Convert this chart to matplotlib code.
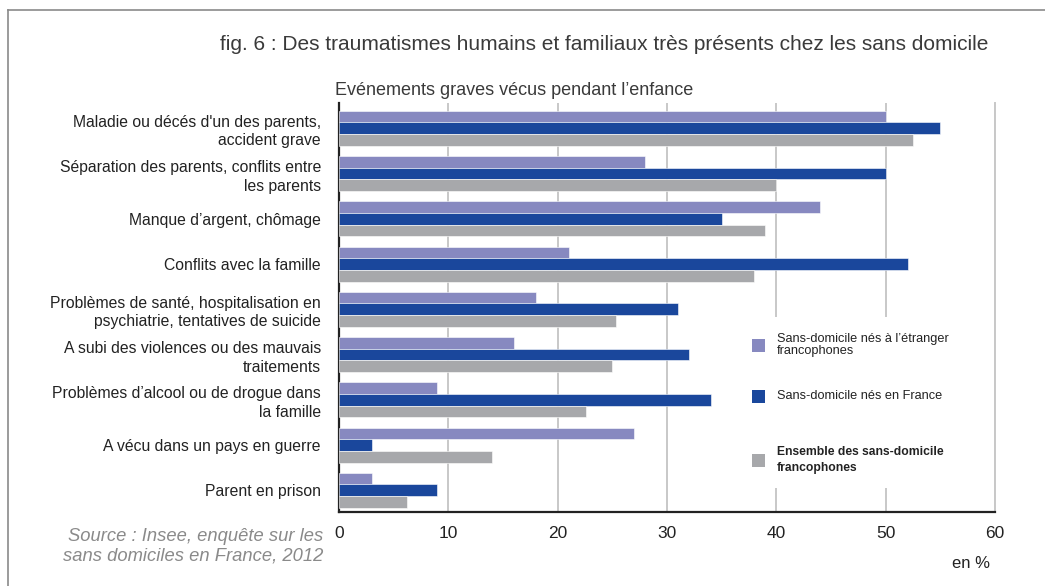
import numpy as np
import matplotlib
matplotlib.use("Agg")
import matplotlib.pyplot as plt
from matplotlib.patches import Rectangle
from matplotlib.lines import Line2D

# ──────────────────────────────────────────────
# Data (en %)
# ──────────────────────────────────────────────

categories = [
    "Maladie ou décés d'un des parents,\naccident grave",
    "Séparation des parents, conflits entre\nles parents",
    "Manque d’argent, chômage",
    "Conflits avec la famille",
    "Problèmes de santé, hospitalisation en\npsychiatrie, tentatives de suicide",
    "A subi des violences ou des mauvais\ntraitements",
    "Problèmes d’alcool ou de drogue dans\nla famille",
    "A vécu dans un pays en guerre",
    "Parent en prison",
]
nes_etranger = [50, 28, 44, 21, 18, 16, 9, 27, 3]
nes_france = [55, 50, 35, 52, 31, 32, 34, 3, 9]
ensemble = [52.5, 40, 39, 38, 25.3, 25, 22.6, 14, 6.2]

series_labels = [
    "Sans-domicile nés à l’étranger\nfrancophones",
    "Sans-domicile nés en France",
    "Ensemble des sans-domicile\nfrancophones",
]
colors = ["#8789c0", "#1a479c", "#a7a8ab"]
x_ticks = [0, 10, 20, 30, 40, 50, 60]

TITLE = "fig. 6 : Des traumatismes humains et familiaux très présents chez les sans domicile"
SUBTITLE = "Evénements graves vécus pendant l’enfance"
SOURCE = "Source : Insee, enquête sur les\nsans domiciles en France, 2012"

FONT = ["Liberation Sans", "DejaVu Sans"]
W, H = 1045, 586


def fx(x):
    return x / W


def fy(y):
    return 1 - y / H


# ──────────────────────────────────────────────
# Figure
# ──────────────────────────────────────────────

fig = plt.figure(figsize=(W / 100, H / 100), dpi=100)
fig.patch.set_facecolor("white")

# outer frame (left + top)
fig.add_artist(Line2D([fx(8), fx(8)], [fy(10), 0], color="#8a8a8a", lw=1.2))
fig.add_artist(Line2D([fx(8), 1], [fy(10), fy(10)], color="#8a8a8a", lw=1.2))

ax = fig.add_axes([fx(339), fy(512), fx(995) - fx(339), fy(103) - fy(512)])

pos = np.arange(len(categories))
h = 0.258
for k, (vals, col) in enumerate(zip([nes_etranger, nes_france, ensemble], colors)):
    ax.barh(pos + (k - 1) * h, vals, height=h, color=col,
            edgecolor="white", linewidth=0.4, zorder=3)

ax.set_xlim(0, 60)
ax.set_ylim(8.48, -0.56)
ax.set_xticks(x_ticks)
ax.set_xticklabels([str(t) for t in x_ticks], family=FONT, fontsize=12.5,
                   color="#222222")
ax.set_yticks(pos)
ax.set_yticklabels(categories, family=FONT, fontsize=11.3, color="#222222",
                   linespacing=1.3)
ax.tick_params(axis="both", length=0)
ax.tick_params(axis="x", pad=10)
ax.tick_params(axis="y", pad=13)

ax.xaxis.grid(True, color="#c8c8c8", lw=1.4, zorder=0)
ax.set_axisbelow(True)
ax.spines["top"].set_visible(False)
ax.spines["right"].set_color("#c8c8c8")
ax.spines["right"].set_linewidth(1.4)
ax.spines["left"].set_color("#222222")
ax.spines["left"].set_linewidth(1.6)
ax.spines["bottom"].set_color("#222222")
ax.spines["bottom"].set_linewidth(1.6)

# legend (white block hiding the grid)
ax.add_patch(Rectangle((fx(740), fy(488)), fx(990) - fx(740), fy(317) - fy(488),
                       transform=fig.transFigure, facecolor="white",
                       edgecolor="none", zorder=2))
leg_y = [345, 396, 460]
for lab, col, y, wt in zip(series_labels, colors, leg_y, ["normal", "normal", "bold"]):
    fig.add_artist(Rectangle((fx(752), fy(y + 7)), fx(13), 13 / H,
                             facecolor=col, edgecolor="none"))
    fig.text(fx(777), fy(y), lab, family=FONT,
             fontsize=9.2 if wt == "normal" else 8.7,
             color="#222222", weight=wt, va="center", ha="left",
             linespacing=1.05 if wt == "normal" else 1.5)

# texts
fig.text(fx(988), fy(45), TITLE, family=FONT, fontsize=15, color="#3a3a3a",
         ha="right", va="center")
fig.text(fx(335), fy(90), SUBTITLE, family=FONT, fontsize=13,
         color="#3a3a3a", ha="left", va="center")
fig.text(fx(323), fy(546), SOURCE, family=FONT, style="italic",
         fontsize=13.2, color="#8a8a8a", ha="right", va="center",
         linespacing=1.2)
fig.text(fx(990), fy(563), "en %", family=FONT, fontsize=12,
         color="#222222", ha="right", va="center")

fig.savefig("out.png", dpi=100)
